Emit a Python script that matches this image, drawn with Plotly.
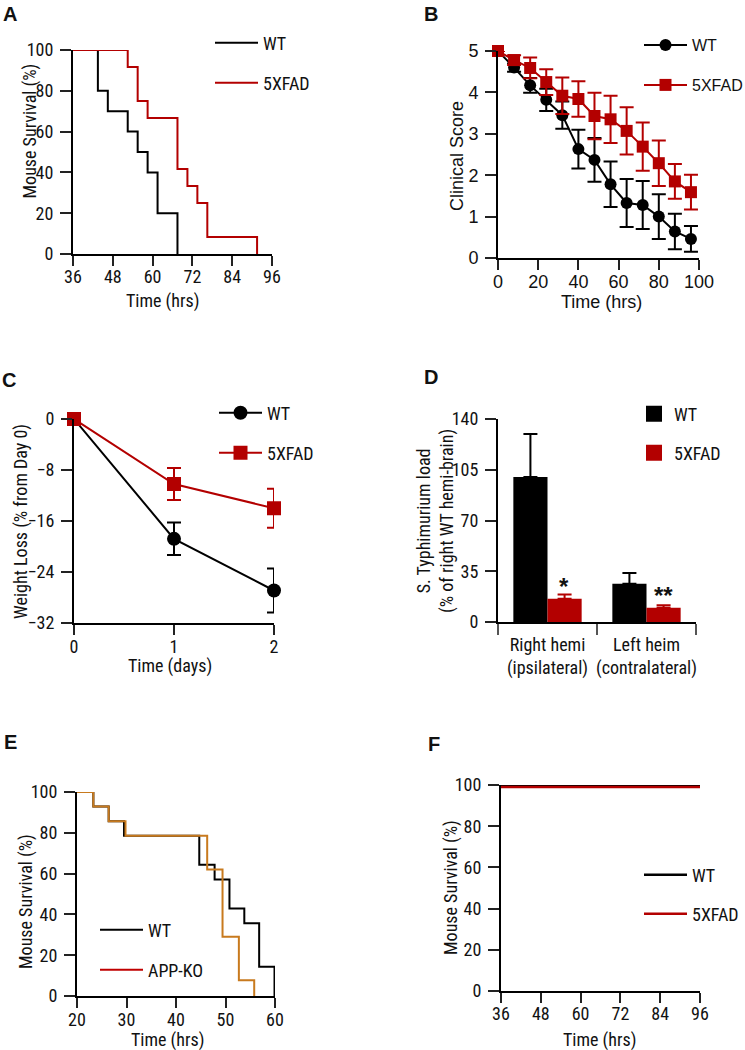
import plotly.graph_objects as go

W, H = 745, 1050


def px_x(p):
    return p / W


def px_y(p):
    return 1 - p / H


NARROW = "Roboto Condensed, Liberation Sans Narrow, Arial Narrow, Liberation Sans, Arial, sans-serif"
REG = "Liberation Sans, Arial, sans-serif"
FS = 18
RED = "#b30000"
ORANGE = "#c87a1e"
LEGRED = "#c00000"
BLACK = "#000000"

# ---------------- data ----------------
# Panel A: Kaplan-Meier survival
a_wt_time = [36, 43.5, 46.5, 52.5, 55.5, 58.5, 61.5, 67.5]
a_wt_surv = [100, 80, 70, 60, 50, 40, 20, 0]
a_5x_time = [36, 52.5, 55.5, 58.5, 67.5, 70.5, 73.5, 76.5, 91.5]
a_5x_surv = [100, 91.7, 75, 66.7, 41.7, 33.3, 25, 8.3, 0]
a_xticks = [36, 48, 60, 72, 84, 96]
a_yticks = [0, 20, 40, 60, 80, 100]

# Panel B: clinical score
b_time = [0, 8, 16, 24, 32, 40, 48, 56, 64, 72, 80, 88, 96]
b_wt = [5.0, 4.6, 4.17, 3.82, 3.45, 2.63, 2.37, 1.78, 1.33, 1.28, 1.0, 0.64, 0.46]
b_wt_err = [0, 0.1, 0.18, 0.27, 0.33, 0.47, 0.53, 0.55, 0.58, 0.58, 0.54, 0.43, 0.31]
b_5x = [5.0, 4.78, 4.59, 4.25, 3.92, 3.84, 3.43, 3.35, 3.07, 2.69, 2.29, 1.85, 1.59]
b_5x_err = [0, 0.12, 0.25, 0.31, 0.44, 0.43, 0.56, 0.57, 0.57, 0.58, 0.55, 0.42, 0.42]
b_xticks = [0, 20, 40, 60, 80, 100]
b_yticks = [0, 1, 2, 3, 4, 5]

# Panel C: weight loss
c_day = [0, 1, 2]
c_wt = [0, -18.8, -26.9]
c_wt_err = [0, 2.55, 3.45]
c_5x = [0, -10.2, -14.0]
c_5x_err = [0, 2.5, 3.05]
c_yticks = [-32, -24, -16, -8, 0]
c_xticks = [0, 1, 2]

# Panel D: bacterial load
d_pos = [0.5, 1.5]
d_labels = ["Right hemi<br>(ipsilateral)", "Left heim<br>(contralateral)"]
d_wt = [100, 26.4]
d_wt_err = [29.7, 7.4]
d_5x = [16.1, 9.9]
d_5x_err = [2.8, 1.6]
d_sig = ["*", "**"]
d_sig_y = [26.9, 20.7]
d_yticks = [0, 35, 70, 105, 140]

# Panel E: survival WT vs APP-KO
e_wt_time = [20, 23.3, 26.4, 29.5, 44.7, 47.8, 50.8, 53.8, 56.8, 59.9]
e_wt_surv = [100, 92.9, 85.7, 78.6, 64.3, 57.1, 42.9, 35.7, 14.3, 0]
e_ko_time = [20, 23.3, 26.4, 29.8, 46.3, 49.4, 52.7, 55.8]
e_ko_surv = [100, 92.9, 85.7, 78.6, 62, 29, 7.7, 0]
e_xticks = [20, 30, 40, 50, 60]
e_yticks = [0, 20, 40, 60, 80, 100]

# Panel F: survival (no deaths)
f_time = [36, 96]
f_wt = [100, 100]
f_5x = [99, 99]
f_xticks = [36, 48, 60, 72, 84, 96]
f_yticks = [0, 20, 40, 60, 80, 100]

fig = go.Figure()

# ---------------- axes layout ----------------
panels = {
    # n: (x0px, x1px, ytop_px, ybot_px, xrange, yrange, xticks, yticks, font, x label standoff)
    1: (73, 272, 50, 254, [36, 96], [0, 100], a_xticks, a_yticks, NARROW, -5),
    2: (498, 699, 51, 258, [0, 100], [0, 5], b_xticks, b_yticks, REG, -4),
    3: (74, 274, 419, 623, [0, 2], [-32, 0], c_xticks, c_yticks, NARROW, -4),
    4: (498, 696, 419, 622, [0, 2], [0, 140], d_pos, d_yticks, NARROW, 5),
    5: (77, 275, 792, 996, [20, 60], [0, 100], e_xticks, e_yticks, NARROW, -4),
    6: (501, 700, 785, 991, [36, 96], [0, 100], f_xticks, f_yticks, NARROW, -5),
}

layout_axes = {}
for n, (x0, x1, yt, yb, xr, yr, xt, yt_vals, fam, xso) in panels.items():
    sfx = "" if n == 1 else str(n)
    xa = dict(
        domain=[px_x(x0), px_x(x1)], range=xr, anchor="y" + sfx, automargin=False,
        showline=True, linewidth=2, linecolor=BLACK, showgrid=False, zeroline=False,
        ticks="outside", ticklen=10, tickwidth=1.5, tickcolor="#222", tickangle=0,
        tickvals=xt, tickfont=dict(family=fam, size=FS, color="#111"),
        ticklabelstandoff=xso, fixedrange=True,
    )
    ya = dict(
        domain=[px_y(yb), px_y(yt)], range=yr, anchor="x" + sfx, automargin=False,
        showline=True, linewidth=2, linecolor=BLACK, showgrid=False, zeroline=False,
        ticks="outside", ticklen=11, tickwidth=1.5, tickcolor="#222",
        tickvals=yt_vals, tickfont=dict(family=fam, size=FS, color="#111"),
        ticklabelstandoff=3, fixedrange=True,
    )
    layout_axes["xaxis" + sfx] = xa
    layout_axes["yaxis" + sfx] = ya

layout_axes["xaxis4"].update(
    ticks="", ticktext=d_labels,
    minor=dict(tickvals=[0, 1, 2], ticks="outside", ticklen=11, tickwidth=1.5, tickcolor="#555"),
)

# ---------------- traces ----------------
def step(x, y, color, xa, ya, name=None, legend=None, show=False):
    return go.Scatter(
        x=x, y=y, mode="lines", line=dict(color=color, width=2, shape="hv"),
        xaxis=xa, yaxis=ya, name=name, legend=legend, showlegend=show, cliponaxis=False,
    )

# A
fig.add_trace(step(a_wt_time, a_wt_surv, BLACK, "x", "y", "WT", "legend", True))
fig.add_trace(step(a_5x_time, a_5x_surv, RED, "x", "y", "5XFAD", "legend2", True))

# B
fig.add_trace(go.Scatter(
    x=b_time, y=b_wt, mode="lines+markers", name="WT", legend="legend3",
    line=dict(color=BLACK, width=2), marker=dict(symbol="circle", size=12, color=BLACK),
    error_y=dict(type="data", array=b_wt_err, color=BLACK, thickness=2, width=7),
    xaxis="x2", yaxis="y2", cliponaxis=False,
))
fig.add_trace(go.Scatter(
    x=b_time, y=b_5x, mode="lines+markers", name="5XFAD", legend="legend4",
    line=dict(color=RED, width=2), marker=dict(symbol="square", size=12, color=RED),
    error_y=dict(type="data", array=b_5x_err, color=RED, thickness=2, width=7),
    xaxis="x2", yaxis="y2", cliponaxis=False,
))

# C
fig.add_trace(go.Scatter(
    x=c_day, y=c_wt, mode="lines+markers", name="WT", legend="legend5",
    line=dict(color=BLACK, width=2), marker=dict(symbol="circle", size=14, color=BLACK),
    error_y=dict(type="data", array=c_wt_err, color=BLACK, thickness=2, width=7),
    xaxis="x3", yaxis="y3", cliponaxis=False,
))
fig.add_trace(go.Scatter(
    x=c_day, y=c_5x, mode="lines+markers", name="5XFAD", legend="legend6",
    line=dict(color=RED, width=2), marker=dict(symbol="square", size=14, color=RED),
    error_y=dict(type="data", array=c_5x_err, color=RED, thickness=2, width=7),
    xaxis="x3", yaxis="y3", cliponaxis=False,
))

# D
fig.add_trace(go.Bar(
    x=d_pos, y=d_wt, name="WT", showlegend=False, marker=dict(color=BLACK, line=dict(width=0)),
    error_y=dict(type="data", symmetric=False, array=d_wt_err, arrayminus=[0, 0],
                 color=BLACK, thickness=2, width=7),
    xaxis="x4", yaxis="y4", offsetgroup="wt",
))
fig.add_trace(go.Bar(
    x=d_pos, y=d_5x, name="5XFAD", showlegend=False, marker=dict(color=RED, line=dict(width=0)),
    error_y=dict(type="data", symmetric=False, array=d_5x_err, arrayminus=[0, 0],
                 color=RED, thickness=2, width=7),
    xaxis="x4", yaxis="y4", offsetgroup="5x",
))
fig.add_trace(go.Scatter(x=[None], y=[None], mode="markers", name="WT", legend="legend7",
                         marker=dict(symbol="square", size=16, color=BLACK), xaxis="x4", yaxis="y4"))
fig.add_trace(go.Scatter(x=[None], y=[None], mode="markers", name="5XFAD", legend="legend8",
                         marker=dict(symbol="square", size=16, color=RED), xaxis="x4", yaxis="y4"))

# E
fig.add_trace(step(e_wt_time, e_wt_surv, BLACK, "x5", "y5", "WT", "legend9", True))
fig.add_trace(step(e_ko_time, e_ko_surv, ORANGE, "x5", "y5", "APP-KO", None, False))
fig.add_trace(go.Scatter(x=[None], y=[None], mode="lines", name="APP-KO", legend="legend10",
                         line=dict(color=LEGRED, width=2), xaxis="x5", yaxis="y5"))

# F
fig.add_trace(go.Scatter(x=f_time, y=f_wt, mode="lines", name="WT", legend="legend11",
                         line=dict(color=BLACK, width=2.5), xaxis="x6", yaxis="y6", cliponaxis=False))
fig.add_trace(go.Scatter(x=f_time, y=f_5x, mode="lines", name="5XFAD", legend="legend12",
                         line=dict(color=RED, width=2.5), xaxis="x6", yaxis="y6", cliponaxis=False))

# ---------------- legends ----------------
legend_specs = {
    # key: (text start px, center y px, font, size, itemwidth)
    "legend": (263, 43, NARROW, FS, 43), "legend2": (263, 83, NARROW, FS, 43),
    "legend3": (692, 45, REG, 16, 43), "legend4": (692, 85, REG, 16, 43),
    "legend5": (267, 413, NARROW, FS, 43), "legend6": (267, 453, NARROW, FS, 43),
    "legend7": (674, 414, NARROW, FS, 30), "legend8": (674, 453, NARROW, FS, 30),
    "legend9": (148, 930, NARROW, FS, 43), "legend10": (148, 970, NARROW, FS, 43),
    "legend11": (692, 875, NARROW, FS, 43), "legend12": (692, 914, NARROW, FS, 43),
}
legends = {}
for key, (tx, ly, fam, fsz, iw) in legend_specs.items():
    legends[key] = dict(
        x=px_x(tx - iw - 10), y=px_y(ly), xanchor="left", yanchor="middle",
        bgcolor="rgba(0,0,0,0)", borderwidth=0, itemwidth=iw,
        font=dict(family=fam, size=fsz, color="#111"), itemclick=False, itemdoubleclick=False,
    )

# ---------------- annotations ----------------
ann = []

def text(x, y, t, fam=NARROW, size=FS, angle=0, bold=False):
    ann.append(dict(
        x=px_x(x), y=px_y(y), xref="paper", yref="paper", text=("<b>%s</b>" % t) if bold else t,
        showarrow=False, textangle=angle, xanchor="center", yanchor="middle",
        font=dict(family=fam, size=size, color="#111"),
    ))

for lab, lx, ly in [("A", 10, 14), ("B", 431, 14), ("C", 9, 380), ("D", 431, 377), ("E", 10, 742), ("F", 434, 744)]:
    text(lx, ly, lab, fam=REG, size=20, bold=True)

text(29.5, 131, "Mouse Survival (%)", angle=-90)
text(162, 301, "Time (hrs)")
text(457, 156, "Clinical Score", fam=REG, angle=-90)
text(601, 302, "Time (hrs)", fam=REG)
text(21, 522, "Weight Loss (% from Day 0)", angle=-90)
text(170, 666, "Time (days)")
text(435, 521, "S. Typhimurium load<br>(% of right WT hemi-brain)", angle=-90)
text(26, 902, "Mouse Survival (%)", angle=-90)
text(167, 1040, "Time (hrs)")
text(451, 888, "Mouse Survival (%)", angle=-90)
text(599, 1040, "Time (hrs)")

for p, sy, s in zip(d_pos, d_sig_y, d_sig):
    ann.append(dict(
        x=p + 0.17, y=sy, xref="x4", yref="y4", text="<b>%s</b>" % s, showarrow=False,
        xanchor="center", yanchor="middle", yshift=-4,
        font=dict(family=REG, size=24, color="#111"),
    ))

fig.update_layout(
    width=W, height=H, margin=dict(l=0, r=0, t=0, b=0, autoexpand=False),
    paper_bgcolor="white", plot_bgcolor="white",
    barmode="group", bargap=0.31, bargroupgap=0,
    annotations=ann, **layout_axes, **legends,
)

fig.write_html(
    "out.html",
    config={"displayModeBar": False},
    post_script="document.body.style.margin='0';document.body.style.padding='0';",
)
